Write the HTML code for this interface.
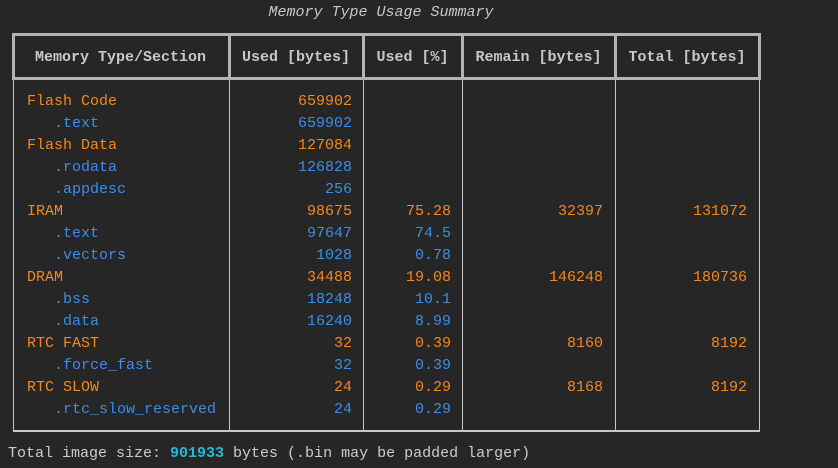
<!DOCTYPE html>
<html><head><meta charset="utf-8"><style>
html,body{margin:0;padding:0;background:#262626;width:838px;height:468px;overflow:hidden}
body{position:relative;font-family:"Liberation Mono","DejaVu Sans Mono",monospace;font-size:15px;color:#cccccc}
.a{position:absolute;white-space:pre;line-height:18px}
.hl{position:absolute;background:#b4b4b4}
.vl{position:absolute;background:#c8c8c8;width:1px}
.o{color:#f5871f}.b{color:#3b8eea}
.h{font-weight:bold;color:#c8c8c8}
</style></head><body>
<div class="a" style="left:0;width:762px;text-align:center;top:4px;font-style:italic;color:#c8c8c8">Memory Type Usage Summary</div>
<div id="grid"></div>
<div class="a" style="left:8px;top:445px">Total image size: <b style="color:#29b8db">901933</b> bytes (.bin may be padded larger)</div>
<script>
const headers=["Memory Type/Section","Used [bytes]","Used [%]","Remain [bytes]","Total [bytes]"];
const names=["Flash Code",".text","Flash Data",".rodata",".appdesc","IRAM",".text",".vectors","DRAM",".bss",".data","RTC FAST",".force_fast","RTC SLOW",".rtc_slow_reserved"];
const usedBytes=["659902","659902","127084","126828","256","98675","97647","1028","34488","18248","16240","32","32","24","24"];
const usedPct=["","","","","","75.28","74.5","0.78","19.08","10.1","8.99","0.39","0.39","0.29","0.29"];
const remain=["","","","","","32397","","","146248","","","8160","","8168",""];
const total=["","","","","","131072","","","180736","","","8192","","8192",""];
const g=document.getElementById('grid');
const xs=[12,229,363,462,615,759];
function add(cls,style,txt){const d=document.createElement('div');d.className=cls;d.style.cssText=style;if(txt!==undefined)d.textContent=txt;g.appendChild(d);return d;}
let e;
e=add('hl','left:12px;top:33px;width:749px;height:3px');

e=add('hl','left:12px;top:77px;width:749px;height:3px');

xs.forEach((x,i)=>{
  e=add('hl','left:'+(i==0?12:i==5?758:x-1)+'px;top:33px;width:3px;height:47px');
  
  e=add('vl','left:'+(i==0?13:i==5?759:x)+'px;top:80px;height:351px');
  
});
e=add('hl','left:13px;top:430px;width:747px;height:2px;background:#c8c8c8');

headers.forEach((h,i)=>{
  e=add('a h','left:'+xs[i]+'px;width:'+(xs[i+1]-xs[i])+'px;text-align:center;top:49px',h);
  
});
const rights=[352,451,603,747];
names.forEach((n,r)=>{
  const sub=n.startsWith('.');const c=sub?'b':'o';const y=93+r*22;
  e=add('a '+c,'left:'+(sub?54:27)+'px;top:'+y+'px',n);
  
  [usedBytes,usedPct,remain,total].forEach((arr,k)=>{
    if(!arr[r])return;
    e=add('a '+c,'right:'+(838-rights[k])+'px;top:'+y+'px',arr[r]);
    
  });
});
</script>
</body></html>
